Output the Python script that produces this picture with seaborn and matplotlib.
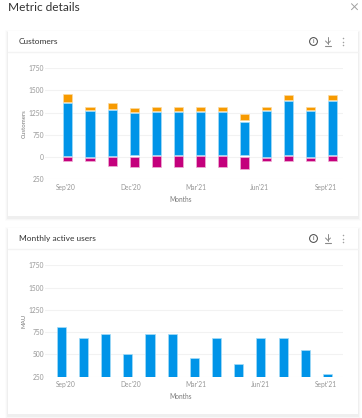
import numpy as np
import pandas as pd
import matplotlib
matplotlib.use('Agg')
import matplotlib.pyplot as plt
from matplotlib.patches import Rectangle, Circle
import seaborn as sns

# Data
months = ["Sep'20", "Oct'20", "Nov'20", "Dec'20", "Jan'21", "Feb'21", "Mar'21",
          "Apr'21", "May'21", "Jun'21", "Jul'21", "Aug'21", "Sept'21"]
shown_months = ["Sep'20", "Dec'20", "Mar'21", "Jun'21", "Sept'21"]

orange_top = [1462, 1310, 1355, 1302, 1310, 1310, 1310, 1310, 1221, 1310, 1448, 1310, 1448]
orange_bottom = [1370, 1280, 1290, 1255, 1265, 1265, 1265, 1265, 1086, 1280, 1395, 1280, 1395]
blue_top = [1355, 1270, 1277, 1243, 1255, 1255, 1255, 1255, 1048, 1270, 1380, 1270, 1380]
blue_bottom = [44, 10, 44, 77, 77, 77, 77, 77, 77, 10, 77, 10, 77]
pink_top = [0, -8, 0, 0, 34, 34, 34, 34, 0, -8, 44, -8, 44]
pink_bottom = [-42, -42, -102, -114, -110, -110, -110, -110, -130, -42, -39, -42, -39]

mau = [869, 686, 734, 504, 734, 734, 455, 686, 395, 686, 686, 548, 284]

customer_ticks = [-250, 0, 750, 1250, 1500, 1750]
customer_labels = ['250', '0', '750', '1250', '1500', '1750']
mau_ticks = [250, 500, 750, 1250, 1500, 1750]

BLUE, ORANGE, PINK = '#0094e8', '#f79a00', '#c4007c'
GRID, TICK, LABEL = '#f2f2f2', '#969696', '#7a7a7a'

sns.set_theme(style='white')
plt.rcParams['font.family'] = ['Lato', 'DejaVu Sans']

W, H = 362, 418
fig = plt.figure(figsize=(W / 100, H / 100), dpi=100, facecolor='white')

# Overlay in pixel coordinates for the cards and header
bg = fig.add_axes([0, 0, 1, 1], zorder=0)
bg.set_xlim(0, W)
bg.set_ylim(H, 0)
bg.axis('off')


def px_axes(left, top, right, bottom):
    ax = fig.add_axes([left / W, 1 - bottom / H, (right - left) / W, (bottom - top) / H], zorder=2)
    ax.patch.set_alpha(0)
    return ax


def stepped_scale(ax, ticks, labels):
    # the y axis in the screenshot has evenly spaced but uneven tick values
    slots = np.arange(len(ticks), dtype=float)
    ax.set_yscale('function', functions=(lambda v: np.interp(v, ticks, slots),
                                         lambda s: np.interp(s, slots, ticks)))
    ax.set_ylim(ticks[0], ticks[-1])
    ax.set_yticks(ticks)
    ax.set_yticklabels(labels)
    ax.minorticks_off()


def card(top, bottom, divider, title):
    # soft shadow, mostly under the card
    for i, a in ((3, 0.012), (2, 0.02), (1, 0.03)):
        bg.add_patch(Rectangle((8 - i, top - i + 2), 350 + 2 * i, bottom - top + 2 * i,
                               fc='black', ec='none', alpha=a))
    bg.add_patch(Rectangle((8, top), 350, bottom - top, fc='white', ec='none'))
    bg.plot([8, 358], [divider, divider], color='#f3f3f3', lw=1)
    bg.text(19, (top + divider) / 2 + 0.5, title, fontsize=6, color='#333333', va='center')
    y = (top + divider) / 2
    bg.add_patch(Circle((313.5, y), 3.9, fc='none', ec='#444444', lw=0.7))
    bg.text(313.5, y, 'i', fontsize=4.6, color='#444444', ha='center', va='center')
    bg.plot([328, 328], [y - 4.5, y + 2], color='#8a8a8a', lw=0.7)
    bg.plot([325.5, 328, 330.5], [y - 0.5, y + 2, y - 0.5], color='#8a8a8a', lw=0.7)
    bg.plot([325, 331], [y + 4, y + 4], color='#8a8a8a', lw=0.8)
    bg.plot([342.5] * 3, [y - 3.5, y, y + 3.5], ls='none', marker='o', ms=1.1, color='#a0a0a0', mew=0)


def finish(ax, ylabel, xlim, tick_pos):
    ax.set_xlim(*xlim)
    ax.set_xticks(tick_pos)
    ax.set_xticklabels(shown_months)
    ax.tick_params(axis='both', length=0, labelsize=4.8, labelcolor=TICK, pad=0.8)
    ax.tick_params(axis='x', pad=3.2)
    ax.grid(axis='y', color=GRID, lw=0.8)
    ax.grid(axis='x', visible=False)
    ax.set_axisbelow(True)
    sns.despine(ax=ax, left=True, bottom=True)
    ax.set_xlabel('Months', fontsize=4.8, color=LABEL, labelpad=3.8)
    ax.xaxis.label.set_x(0.456)
    ax.set_ylabel(ylabel, fontsize=4.4, color=LABEL)
    ax.yaxis.set_label_coords(-0.062, 0.5)


bg.text(8, 7.5, 'Metric details', fontsize=8.6, color='#333333', va='center')
bg.plot([351.5, 357.5], [3.7, 9.7], color='#a0a0a0', lw=0.7)
bg.plot([351.5, 357.5], [9.7, 3.7], color='#a0a0a0', lw=0.7)
card(31, 216, 52, 'Customers')
card(228, 414, 249, 'Monthly active users')

# Customers
df = pd.DataFrame({'month': months, 'orange_top': orange_top, 'orange_bottom': orange_bottom,
                   'blue_top': blue_top, 'blue_bottom': blue_bottom,
                   'pink_top': pink_top, 'pink_bottom': pink_bottom})
ax1 = px_axes(45, 68.3, 343, 179.3)
sns.barplot(data=df, x='month', y=df['orange_top'] - df['orange_bottom'], bottom=df['orange_bottom'],
            color=ORANGE, saturation=1, width=0.41, edgecolor='#fbd9a0', linewidth=0.5, ax=ax1)
sns.barplot(data=df, x='month', y=df['blue_top'] - df['blue_bottom'], bottom=df['blue_bottom'],
            color=BLUE, saturation=1, width=0.41, edgecolor='#a5dcf7', linewidth=0.5, ax=ax1)
sns.barplot(data=df, x='month', y=df['pink_top'] - df['pink_bottom'], bottom=df['pink_bottom'],
            color=PINK, saturation=1, width=0.41, edgecolor='#eeb0d5', linewidth=0.5, ax=ax1)
stepped_scale(ax1, customer_ticks, customer_labels)
finish(ax1, 'Customers', (-1.04, 12.47), [-0.09, 2.85, 5.8, 8.7, 11.7])

# Monthly active users
ax2 = px_axes(45, 265.3, 343, 376.7)
sns.barplot(x=months, y=mau, color=BLUE, saturation=1, width=0.41,
            edgecolor='#a5dcf7', linewidth=0.5, ax=ax2)
stepped_scale(ax2, mau_ticks, [str(t) for t in mau_ticks])
finish(ax2, 'MAU', (-0.735, 12.7), [0.21, 3.14, 6.07, 8.96, 11.94])

fig.savefig('out.png', dpi=100)
